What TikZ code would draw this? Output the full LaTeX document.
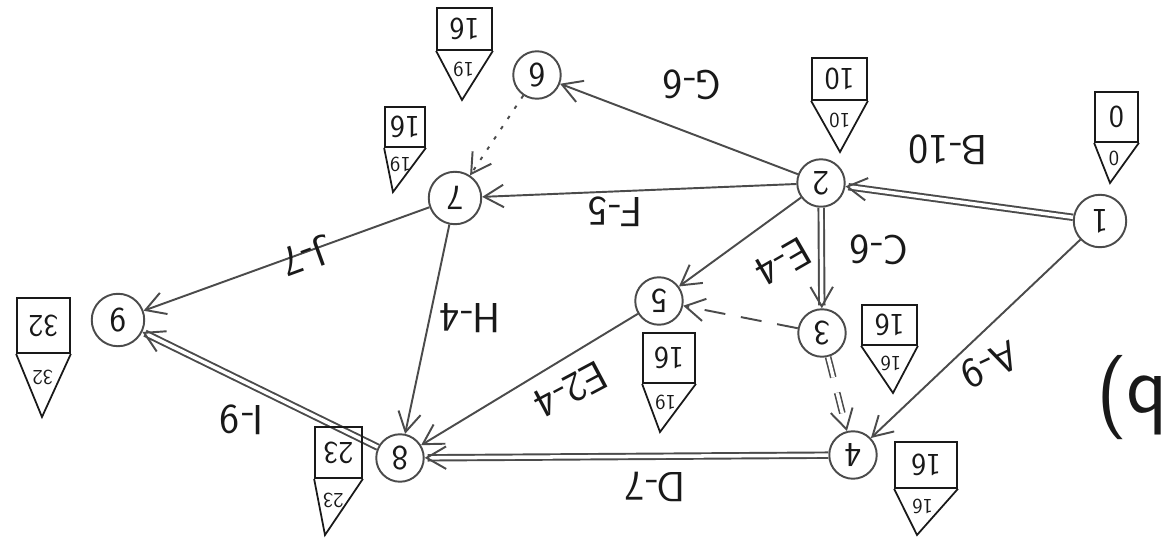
\documentclass[tikz,border=0pt]{standalone}
\usetikzlibrary{arrows.meta, positioning, calc}
\definecolor{pencil}{RGB}{75, 75, 75}
\definecolor{ink}{RGB}{25, 25, 25}

\begin{document}
\begin{tikzpicture}[x=0.02cm, y=0.02cm, rotate=180, transform shape, font=\sffamily,
    event/.style={circle, draw=pencil, line width=1.1pt, minimum size=0.95cm, inner sep=0pt, text=ink, font=\sffamily\fontsize{20}{20}\selectfont},
    act/.style={draw=pencil, line width=1.1pt, -{Straight Barb[angle=60:4.5mm, line width=1.1pt]}},
    crit/.style={act, double=white, double distance=2pt, line width=1.1pt},
    dummy/.style={act, dash pattern=on 12pt off 9pt},
    actlabel/.style={font=\sffamily\fontsize{24}{24}\selectfont, text=ink, inner sep=0pt},
    esbox/.style={draw=ink, line width=1pt, inner sep=0pt, text=ink, font=\sffamily\fontsize{18}{18}\selectfont},
    lfnum/.style={font=\sffamily\fontsize{12}{12}\selectfont, text=ink, inner sep=0pt}]

  \useasboundingbox[fill=white] (0,0) rectangle (1175,540);

  % Events
  \node[event, minimum size=1.05cm] (e1) at (75,221) {1};
  \node[event] (e2) at (354,183) {2};
  \node[event] (e3) at (353,333) {3};
  \node[event] (e4) at (322,455) {4};
  \node[event] (e5) at (516,301) {5};
  \node[event] (e6) at (638,75) {6};
  \node[event, minimum size=1.05cm] (e7) at (720,198) {7};
  \node[event] (e8) at (775,458) {8};
  \node[event, minimum size=1.05cm] (e9) at (1057,320) {9};

  % Activities (critical path doubled)
  \draw[crit] (e1) -- (e2);
  \draw[act] (e1) -- (e4);
  \draw[crit] (e2) -- (e3);
  \draw[act] (e2) -- (e5);
  \draw[act] (e2) -- (e7);
  \draw[act] (e2) -- (e6);
  \draw[dummy, double=white, double distance=2pt, line width=0.9pt] (e3) -- (e4);
  \draw[dummy] (e3) -- (e5);
  \draw[act, dash pattern=on 2pt off 5pt] (e6) -- (e7);
  \draw[act] (e7) -- (e9);
  \draw[act] (e7) -- (e8);
  \draw[act] (e5) -- (e8);
  \draw[crit] (e4) -- (e8);
  \draw[crit] (e8) -- (e9);

  % Activity labels
  \node[actlabel] (lB) at (227,150) {B-10};
  \node[actlabel] (lC) at (296,250) {C-6};
  \node[actlabel, rotate=25] (lA) at (185,365) {A-9};
  \node[actlabel] (lG) at (483,85) {G-6};
  \node[actlabel] (lF) at (560,212) {F-5};
  \node[actlabel, rotate=30] (lE) at (392,262) {E-4};
  \node[actlabel, rotate=28] (lE2) at (604,390) {E2-4};
  \node[actlabel] (lH) at (705,318) {H-4};
  \node[actlabel, rotate=20] (lJ) at (868,256) {J-7};
  \node[actlabel] (lI) at (933,420) {I-9};
  \node[actlabel] (lD) at (520,487) {D-7};

  % Earliest / latest times
  \foreach \n/\x/\y/\w/\h/\tx/\ty/\es/\lf in {
      1/58.5/117/43/50/65/183/0/0,
      2/335.5/79/55/42/335/152/10/10,
      3/285.5/325/55/40/282/393/16/16,
      4/249/465/62/46/258/535/16/16,
      5/506/358/52/50/515/432/16/19,
      6/710.5/29/55/42/713/100/16/19,
      7/770/127/40/40/782/192/16/19,
      8/836.5/452.5/47/51/850/535/23/23,
      9/1131.5/325.5/53/55/1133/417/32/32}
  {
    \node[esbox, minimum width=\w*0.02cm, minimum height=\h*0.02cm] (es\n) at (\x,\y) {\es};
    \coordinate (tip\n) at (\tx,\ty);
    \draw[draw=ink, line width=1pt] (es\n.north west) -- (tip\n) -- (es\n.north east);
    \node[lfnum] (lf\n) at ($(tip\n)!0.62!(es\n.north)$) {\lf};
  }

  \node[font=\sffamily\fontsize{48}{48}\selectfont, text=ink] (part) at (43,398) {b)};
\end{tikzpicture}
\end{document}
